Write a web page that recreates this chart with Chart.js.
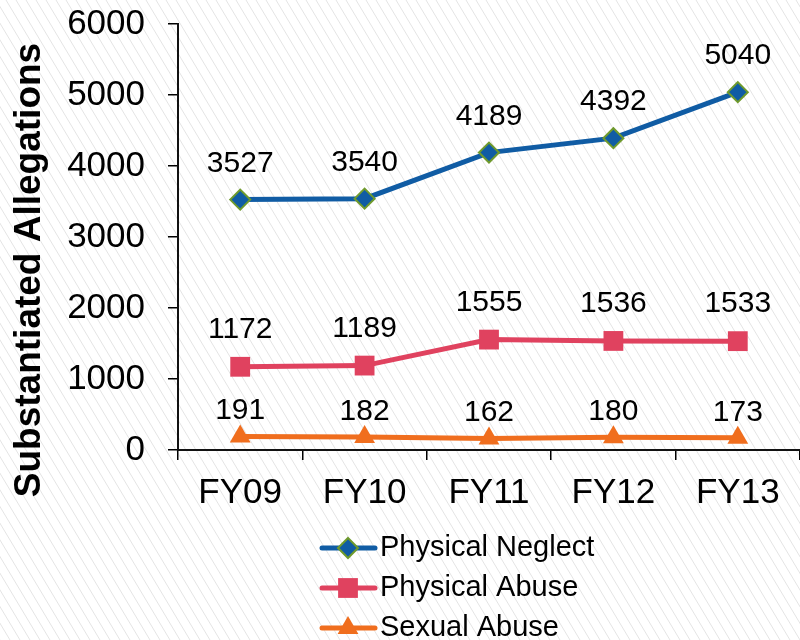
<!DOCTYPE html>
<html>
<head>
<meta charset="utf-8">
<script src="https://cdn.jsdelivr.net/npm/chart.js@4"></script>
<style>
  html, body { margin: 0; padding: 0; background: #fff; overflow: hidden; }
  #chart { display: block; }
</style>
</head>
<body>
<canvas id="chart" width="800" height="640"></canvas>
<script>
// Datos del gráfico
const categories = ['FY09', 'FY10', 'FY11', 'FY12', 'FY13'];
const seriesNames = ['Physical Neglect', 'Physical Abuse', 'Sexual Abuse'];
const physicalNeglect = [3527, 3540, 4189, 4392, 5040];
const physicalAbuse = [1172, 1189, 1555, 1536, 1533];
const sexualAbuse = [191, 182, 162, 180, 173];
const yAxisTitle = 'Substantiated Allegations';
const yMin = 0, yMax = 6000, yStep = 1000;

const FONT = "Arial, 'Liberation Sans', sans-serif";

// Fondo rayado
const hatchBackground = {
    id: 'hatchBackground',
    beforeDraw(chart) {
        const ctx = chart.ctx;
        const w = chart.width, h = chart.height;
        ctx.save();
        ctx.fillStyle = '#ffffff';
        ctx.fillRect(0, 0, w, h);
        ctx.strokeStyle = '#e4e4e4';
        ctx.lineWidth = 1;
        const slope = 0.6;
        for (let x = -h * slope; x < w; x += 10) {
            ctx.beginPath();
            ctx.moveTo(x, 0);
            ctx.lineTo(x + h * slope, h);
            ctx.stroke();
        }
        ctx.restore();
    }
};

// Etiquetas de valores encima de cada punto
const valueLabels = {
    id: 'valueLabels',
    afterDatasetsDraw(chart) {
        const ctx = chart.ctx;
        ctx.save();
        ctx.font = '30px ' + FONT;
        ctx.fillStyle = '#000';
        ctx.textAlign = 'center';
        ctx.textBaseline = 'alphabetic';
        chart.data.datasets.forEach((ds, i) => {
            const meta = chart.getDatasetMeta(i);
            meta.data.forEach((pt, j) => {
                ctx.fillText(String(ds.data[j]), pt.x, pt.y - ds.labelOffset);
            });
        });
        ctx.restore();
    }
};

function drawMarker(ctx, style, x, y, ds) {
    ctx.save();
    ctx.fillStyle = ds.pointBackgroundColor;
    ctx.strokeStyle = ds.pointBorderColor;
    ctx.lineWidth = ds.pointBorderWidth;
    const r = ds.pointRadius;
    ctx.beginPath();
    if (style === 'rectRot') {
        ctx.moveTo(x, y - r); ctx.lineTo(x + r, y); ctx.lineTo(x, y + r); ctx.lineTo(x - r, y);
    } else if (style === 'rect') {
        const s = r * Math.SQRT1_2;
        ctx.rect(x - s, y - s, 2 * s, 2 * s);
    } else {
        ctx.moveTo(x, y - r);
        ctx.lineTo(x + r * Math.sin(Math.PI * 2 / 3), y - r * Math.cos(Math.PI * 2 / 3));
        ctx.lineTo(x - r * Math.sin(Math.PI * 2 / 3), y - r * Math.cos(Math.PI * 2 / 3));
    }
    ctx.closePath();
    ctx.fill();
    if (ds.pointBorderWidth > 0) ctx.stroke();
    ctx.restore();
}

// Leyenda con línea y marcador, apilada
const customLegend = {
    id: 'customLegend',
    afterDraw(chart) {
        const ctx = chart.ctx;
        const rowY = [548, 588, 628];
        chart.data.datasets.forEach((ds, i) => {
            const y = rowY[i];
            ctx.save();
            ctx.strokeStyle = ds.borderColor;
            ctx.lineWidth = 5;
            ctx.lineCap = 'round';
            ctx.beginPath();
            ctx.moveTo(322, y);
            ctx.lineTo(375, y);
            ctx.stroke();
            ctx.restore();
            drawMarker(ctx, ds.pointStyle, 348, y, ds);
            ctx.save();
            ctx.font = '29px ' + FONT;
            ctx.fillStyle = '#000';
            ctx.textAlign = 'left';
            ctx.textBaseline = 'middle';
            ctx.fillText(ds.label, 380, y);
            ctx.restore();
        });
        // Título del eje Y
        ctx.save();
        ctx.translate(30, 270);
        ctx.rotate(-Math.PI / 2);
        ctx.font = 'bold 37px ' + FONT;
        ctx.fillStyle = '#000';
        ctx.textAlign = 'center';
        ctx.textBaseline = 'middle';
        ctx.fillText(yAxisTitle, 0, 0);
        ctx.restore();
    }
};

const ctx = document.getElementById('chart').getContext('2d');
const chart = new Chart(ctx, {
    type: 'line',
    data: {
        labels: categories,
        datasets: [{
            label: seriesNames[0],
            data: physicalNeglect,
            borderColor: '#105ca4',
            borderWidth: 5,
            pointStyle: 'rectRot',
            pointRadius: 10,
            pointBackgroundColor: '#105ca4',
            pointBorderColor: '#6f9a2c',
            pointBorderWidth: 2,
            labelOffset: 28,
            tension: 0
        }, {
            label: seriesNames[1],
            data: physicalAbuse,
            borderColor: '#e0425f',
            borderWidth: 5,
            pointStyle: 'rect',
            pointRadius: 14,
            pointBackgroundColor: '#e0425f',
            pointBorderColor: '#e0425f',
            pointBorderWidth: 0,
            labelOffset: 29,
            tension: 0
        }, {
            label: seriesNames[2],
            data: sexualAbuse,
            borderColor: '#f06e1e',
            borderWidth: 5,
            pointStyle: 'triangle',
            pointRadius: 12,
            pointBackgroundColor: '#f06e1e',
            pointBorderColor: '#f06e1e',
            pointBorderWidth: 0,
            labelOffset: 17,
            tension: 0
        }]
    },
    options: {
        responsive: false,
        animation: false,
        layout: { autoPadding: false, padding: { top: 24, right: 0, bottom: 0, left: 0 } },
        plugins: {
            legend: { display: false },
            title: { display: false },
            tooltip: { enabled: false }
        },
        scales: {
            x: {
                offset: true,
                grid: { offset: true, drawOnChartArea: false, tickLength: 10, color: '#000', lineWidth: 1.5 },
                border: { color: '#111', width: 2 },
                ticks: { font: { family: FONT, size: 35 }, color: '#000', padding: 12 },
                afterFit(scale) {
                    scale.height = 190;
                    scale.paddingLeft = 0;
                    scale.paddingRight = 0;
                }
            },
            y: {
                min: yMin,
                max: yMax,
                grid: { drawOnChartArea: false, tickLength: 10, color: '#000', lineWidth: 1.5 },
                border: { color: '#111', width: 2 },
                ticks: {
                    stepSize: yStep,
                    font: { family: FONT, size: 35 },
                    color: '#000',
                    padding: 23,
                    callback: (v) => String(v)
                },
                afterFit(scale) {
                    scale.width = 178;
                    scale.paddingTop = 0;
                    scale.paddingBottom = 0;
                }
            }
        }
    },
    plugins: [hatchBackground, valueLabels, customLegend]
});
</script>
</body>
</html>
